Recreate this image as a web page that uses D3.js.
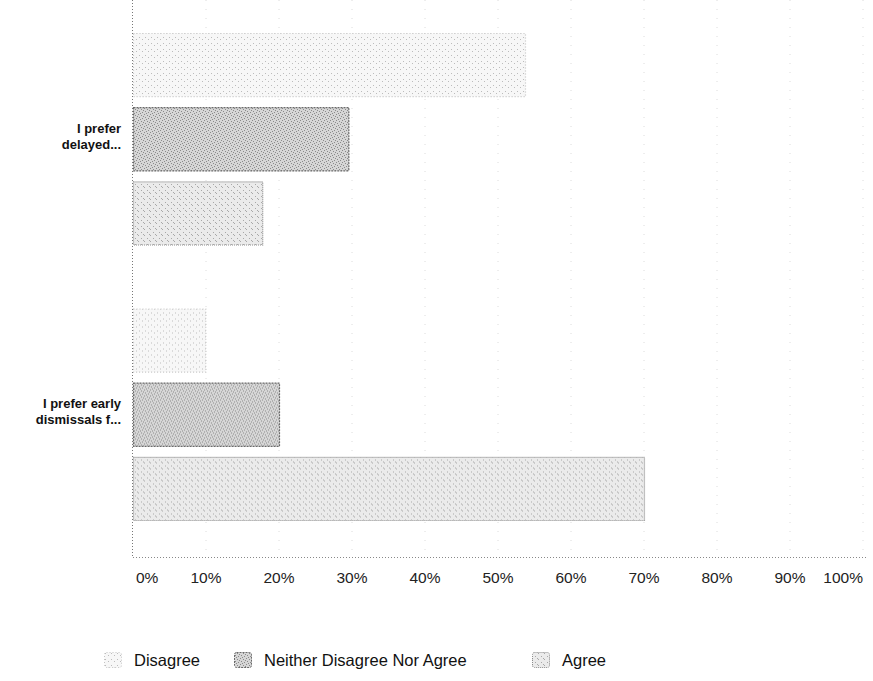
<!DOCTYPE html>
<html>
<head>
<meta charset="utf-8">
<script src="https://cdn.jsdelivr.net/npm/d3@7"></script>
<style>
  html, body { margin: 0; padding: 0; background: #fff; }
  svg { display: block; font-family: "Liberation Sans", Arial, sans-serif; }
</style>
</head>
<body>
<svg id="chart" width="873" height="681"></svg>
<script>
// ---- data ----
const categories = ["I prefer delayed...", "I prefer early dismissals f..."];
const categoryLines = [["I prefer", "delayed..."], ["I prefer early", "dismissals f..."]];
const seriesNames = ["Disagree", "Neither Disagree Nor Agree", "Agree"];
const disagreeValues = [53.7, 9.9];
const neitherValues = [29.5, 20.0];
const agreeValues = [17.7, 70.0];
const tickValues = [0, 10, 20, 30, 40, 50, 60, 70, 80, 90, 100];
const tickLabels = ["0%", "10%", "20%", "30%", "40%", "50%", "60%", "70%", "80%", "90%", "100%"];

const seriesValues = [disagreeValues, neitherValues, agreeValues];

// ---- layout ----
const svg = d3.select("#chart");
const plotBottom = 557;
const x = d3.scaleLinear().domain([0, 100]).range([133, 863]);
const y = d3.scaleBand().domain(categories).range([0, 551]).padding(0);
const inner = d3.scaleBand().domain(seriesNames)
  .range([33, y.bandwidth() - 31]).paddingInner(0.15).paddingOuter(0);

// patterns mimicking the scanned halftone
const defs = svg.append("defs");
function dotPattern(id, bg, dots, color) {
  const p = defs.append("pattern").attr("id", id).attr("patternUnits", "userSpaceOnUse")
    .attr("width", 6).attr("height", 6);
  p.append("rect").attr("width", 6).attr("height", 6).attr("fill", bg);
  dots.forEach(d => p.append("rect").attr("x", d[0]).attr("y", d[1]).attr("width", 1).attr("height", 1).attr("fill", color));
}
dotPattern("pDis", "#f7f7f7", [[1,1],[4,3]], "#bcbcbc");
dotPattern("pNei", "#d6d6d6", [[0,0],[3,1],[1,3],[4,4],[2,5],[5,2]], "#8a8a8a");
dotPattern("pAgr", "#ebebeb", [[0,1],[3,4],[5,0]], "#a8a8a8");
const fills = ["url(#pDis)", "url(#pNei)", "url(#pAgr)"];
const strokes = ["#c4c4c4", "#6a6a6a", "#8c8c8c"];
const dashes = ["1,2", "2,1", "1,1"];

// gridlines
svg.append("g").selectAll("line").data(tickValues.slice(1)).join("line")
  .attr("x1", d => x(d)).attr("x2", d => x(d))
  .attr("y1", 0).attr("y2", plotBottom)
  .attr("stroke", "#dcdcdc").attr("stroke-width", 1).attr("stroke-dasharray", "1,8");

// bars
const groups = svg.append("g").selectAll("g").data(categories).join("g")
  .attr("transform", d => `translate(0,${y(d)})`);
groups.selectAll("rect").data((c, ci) => seriesNames.map((s, si) => ({ s, si, v: seriesValues[si][ci] })))
  .join("rect")
  .attr("x", x(0) + 0.5)
  .attr("y", d => inner(d.s) + 0.5)
  .attr("width", d => x(d.v) - x(0))
  .attr("height", inner.bandwidth())
  .attr("fill", d => fills[d.si])
  .attr("stroke", d => strokes[d.si])
  .attr("stroke-width", 1.2)
  .attr("stroke-dasharray", d => dashes[d.si]);

// axes lines (dotted)
svg.append("line").attr("x1", 132.5).attr("x2", 132.5).attr("y1", 0).attr("y2", plotBottom)
  .attr("stroke", "#777").attr("stroke-dasharray", "1,2");
svg.append("line").attr("x1", 133).attr("x2", 866).attr("y1", plotBottom + 0.5).attr("y2", plotBottom + 0.5)
  .attr("stroke", "#888").attr("stroke-dasharray", "1,2");

// category labels
const lab = svg.append("g").selectAll("text").data(categories).join("text")
  .attr("text-anchor", "end").attr("font-weight", "bold").attr("font-size", 13).attr("fill", "#111")
  .attr("x", 121)
  .attr("y", d => y(d) + inner(seriesNames[1]) + inner.bandwidth() / 2 - 6);
lab.selectAll("tspan").data((d, i) => categoryLines[i]).join("tspan")
  .attr("x", 121).attr("dy", (d, i) => i === 0 ? 0 : 16).text(d => d);

// x tick labels
svg.append("g").selectAll("text").data(tickValues).join("text")
  .attr("x", (d, i) => i === 0 ? x(d) + 3 : x(d))
  .attr("y", 583)
  .attr("text-anchor", (d, i) => i === 0 ? "start" : (i === tickValues.length - 1 ? "end" : "middle"))
  .attr("font-size", 15.5).attr("fill", "#222")
  .text((d, i) => tickLabels[i]);

// legend
const legendX = [104, 234, 532];
const leg = svg.append("g").selectAll("g").data(seriesNames).join("g")
  .attr("transform", (d, i) => `translate(${legendX[i]},652)`);
leg.append("rect").attr("x", 0.5).attr("y", 0.5).attr("width", 17).attr("height", 15).attr("rx", 2)
  .attr("fill", (d, i) => fills[i]).attr("stroke", (d, i) => strokes[i])
  .attr("stroke-dasharray", (d, i) => dashes[i]);
leg.append("text").attr("x", 30).attr("y", 14).attr("font-size", 16.5).attr("fill", "#111")
  .text(d => d);
</script>
</body>
</html>
